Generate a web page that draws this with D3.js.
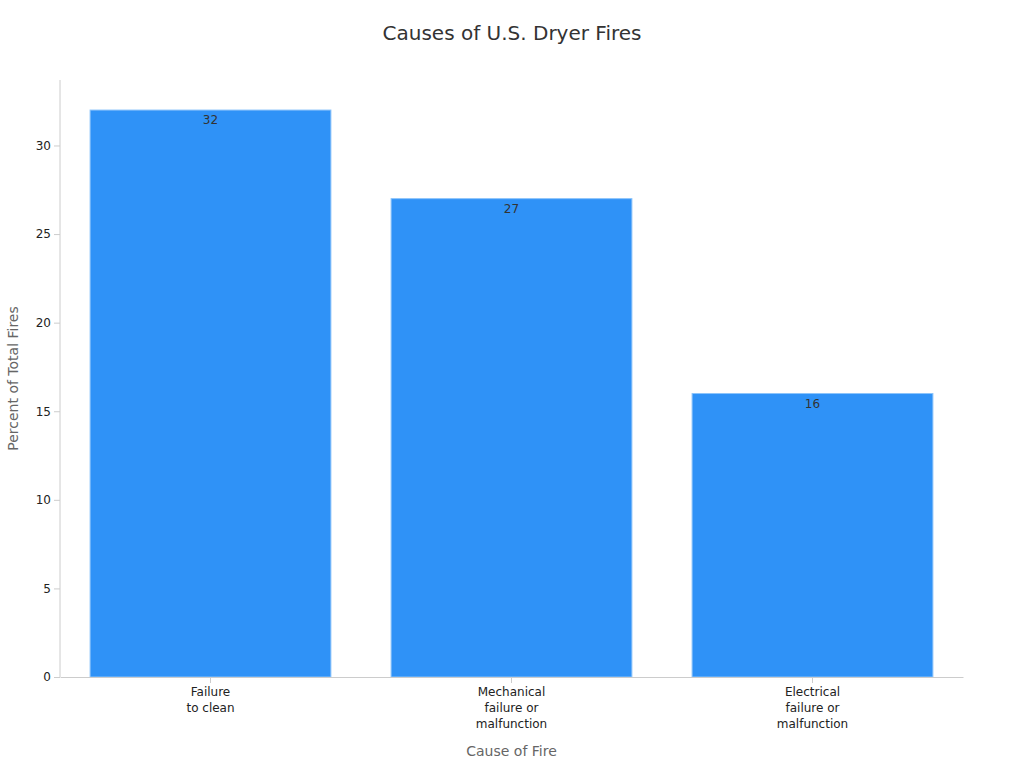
<!DOCTYPE html>
<html>
<head>
<meta charset="utf-8" />
<script src="https://d3js.org/d3.v7.min.js"></script>
<style>
body { margin: 0; background: #fff; font-family: "DejaVu Sans", sans-serif; }
.axis text { font-size: 12px; fill: #222; font-family: "DejaVu Sans", sans-serif; }
.axis path, .axis line { stroke: #ccc; }
.bar { fill: #2f92f7; stroke: #8cc4fb; stroke-width: 1px; }
.value { font-size: 12px; fill: #333; text-anchor: middle; }
.title { font-size: 20px; fill: #333; text-anchor: middle; }
.axis-title { font-size: 14px; fill: #666; text-anchor: middle; }
</style>
</head>
<body>
<script>
// chart data
var categories = ["Failure\nto clean", "Mechanical\nfailure or\nmalfunction", "Electrical\nfailure or\nmalfunction"];
var values = [32, 27, 16];
var yTicks = [0, 5, 10, 15, 20, 25, 30];

var width = 1024, height = 768;
var margin = {top: 80, right: 61, bottom: 91, left: 60};

var svg = d3.select("body").append("svg")
    .attr("width", width)
    .attr("height", height);

var x = d3.scaleBand()
    .domain(categories)
    .range([margin.left, width - margin.right])
    .paddingInner(0.2)
    .paddingOuter(0.1);

var y = d3.scaleLinear()
    .domain([0, d3.max(values) * 1.053])
    .range([height - margin.bottom, margin.top]);

// title
svg.append("text")
    .attr("class", "title")
    .attr("x", width / 2)
    .attr("y", 40)
    .text("Causes of U.S. Dryer Fires");

// bars
svg.selectAll(".bar")
    .data(values)
  .enter().append("rect")
    .attr("class", "bar")
    .attr("x", function(d, i) { return x(categories[i]); })
    .attr("y", function(d) { return y(d); })
    .attr("width", x.bandwidth())
    .attr("height", function(d) { return y(0) - y(d); });

// value labels inside top of bars
svg.selectAll(".value")
    .data(values)
  .enter().append("text")
    .attr("class", "value")
    .attr("x", function(d, i) { return x(categories[i]) + x.bandwidth() / 2; })
    .attr("y", function(d) { return y(d) + 14; })
    .text(function(d) { return d; });

// y axis
var yAxis = svg.append("g")
    .attr("class", "axis")
    .attr("transform", "translate(" + margin.left + ",0)")
    .call(d3.axisLeft(y).tickValues(yTicks).tickSizeOuter(0));
yAxis.attr("font-family", null);
yAxis.select(".domain").attr("d", "M0," + margin.top + "V" + (height - margin.bottom));
yAxis.selectAll(".tick line").attr("stroke", "#888");

// x axis
var xAxis = svg.append("g")
    .attr("class", "axis")
    .attr("transform", "translate(0," + (height - margin.bottom) + ")")
    .call(d3.axisBottom(x).tickSizeOuter(0));
xAxis.attr("font-family", null);
xAxis.selectAll(".tick line").attr("stroke", "#555");
xAxis.selectAll(".tick text").each(function(d) {
  var t = d3.select(this);
  var lines = d.split("\n");
  t.text(null);
  lines.forEach(function(l, i) {
    t.append("tspan")
      .attr("x", 0)
      .attr("dy", i === 0 ? "0.71em" : "1.35em")
      .text(l);
  });
});
xAxis.selectAll(".tick text").attr("y", 10);

// axis titles
svg.append("text")
    .attr("class", "axis-title")
    .attr("x", (margin.left + width - margin.right) / 2)
    .attr("y", 756)
    .text("Cause of Fire");

svg.append("text")
    .attr("class", "axis-title")
    .attr("transform", "translate(18," + ((margin.top + height - margin.bottom) / 2) + ") rotate(-90)")
    .text("Percent of Total Fires");
</script>
</body>
</html>
